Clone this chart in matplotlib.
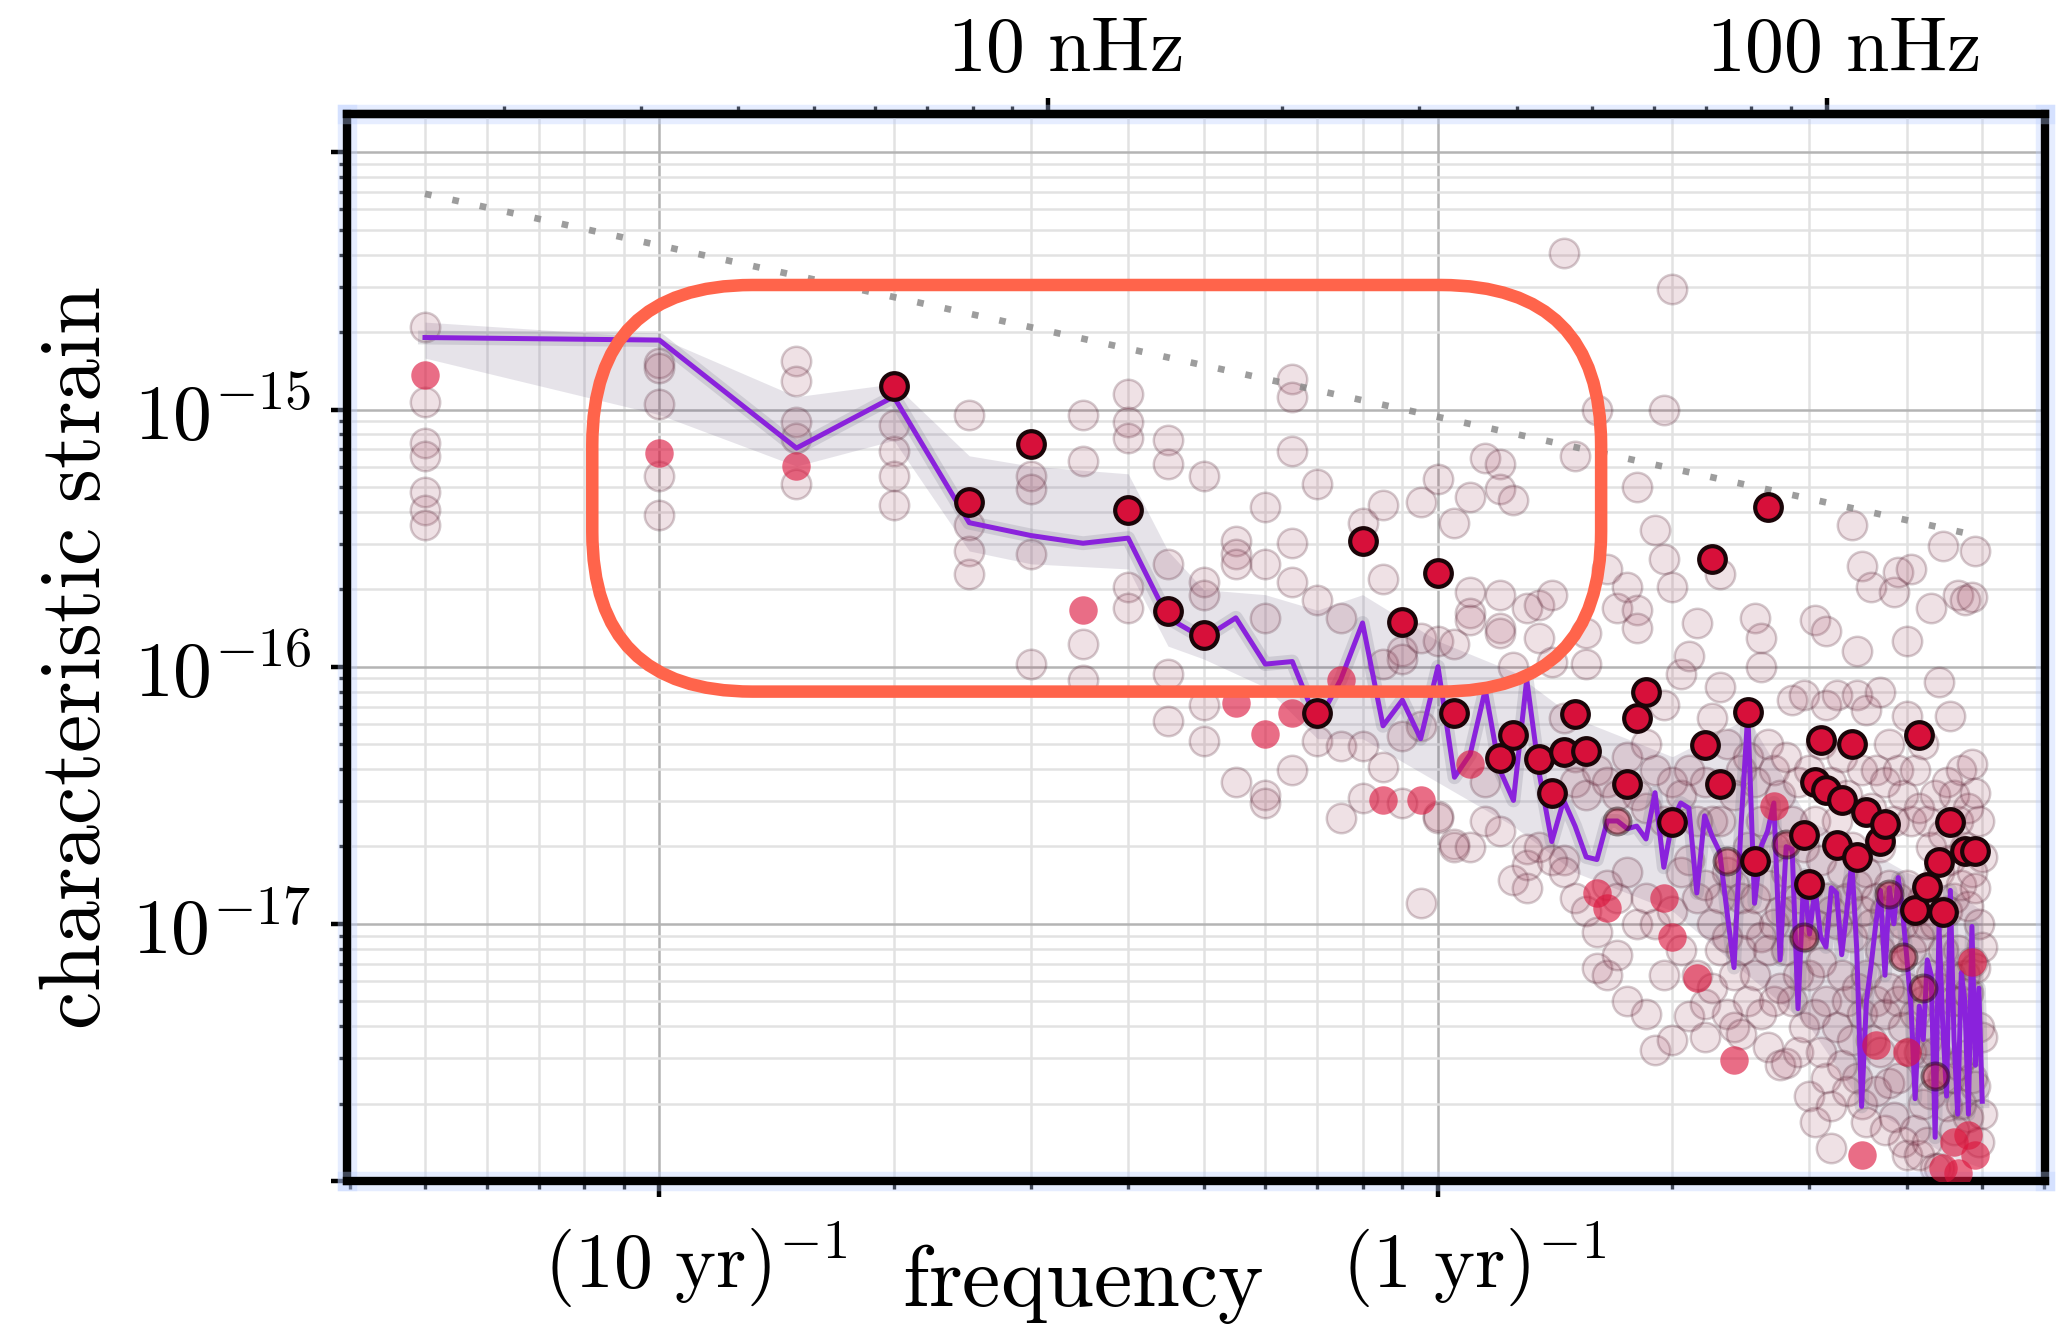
import numpy as np
import matplotlib.pyplot as plt
from matplotlib import ticker
from matplotlib.patches import FancyBboxPatch
from matplotlib.transforms import ScaledTranslation
import matplotlib.patheffects as pe

plt.rcParams['mathtext.fontset'] = 'cm'

# frequency bins: harmonics of 1/(20 yr), in 1/yr
harm = np.arange(1, 101)
freq = harm / 20.0
NHZ_PER_YR = 1e9 / (365.25 * 86400.0)

# median GWB spectrum, log10(h_c)
median_logh = [
    -14.72, -14.73, -15.15, -14.95, -15.44, -15.49, -15.52, -15.50, -15.81, -15.89,
    -15.81, -15.99, -15.98, -16.22, -16.05, -15.83, -16.23, -16.13, -16.28, -16.00,
    -16.43, -16.34, -16.09, -16.40, -16.52, -16.05, -16.42, -16.68, -16.52, -16.62,
    -16.74, -16.75, -16.60, -16.60, -16.63, -16.62, -16.67, -16.49, -16.78, -16.60,
    -16.53, -16.55, -16.88, -16.58, -16.66, -16.72, -16.95, -17.17, -16.62, -16.18,
    -16.92, -16.70, -16.64, -16.53, -17.14, -16.70, -16.71, -17.33, -16.81, -17.04,
    -16.86, -17.05, -17.09, -16.86, -16.88, -17.12, -16.95, -16.76, -17.10, -17.71,
    -17.30, -17.16, -17.00, -16.87, -17.20, -16.86, -17.00, -16.82, -16.95, -17.13,
    -17.32, -17.68, -17.32, -17.45, -17.14, -17.20, -17.83, -17.01, -17.40, -17.67,
    -16.87, -17.45, -17.74, -17.19, -17.30, -17.74, -17.01, -17.55, -17.25, -17.69,
]

# spread of the individual realisations (haze around the median)
band_k = [1, 2, 3, 4, 5, 6, 8, 9, 10, 12, 14, 16, 20, 25, 30, 40, 50, 60, 70, 80, 90, 100]
band_lo = [-14.80, -15.02, -15.22, -15.12, -15.55, -15.60, -15.62, -15.92, -15.97, -16.08, -16.28,
           -16.28, -16.45, -16.62, -16.80, -16.95, -17.20, -17.40, -17.70, -17.80, -17.90, -17.95]
band_hi = [-14.66, -14.72, -14.95, -14.90, -15.18, -15.22, -15.25, -15.55, -15.70, -15.72, -15.78,
           -15.72, -15.90, -16.02, -16.20, -16.35, -16.20, -16.60, -16.70, -16.80, -16.85, -16.95]

# faint single sources, one row per harmonic
faint_logh = [
    [-14.68, -14.97, -15.13, -15.18, -15.32, -15.39, -15.45],
    [-14.82, -14.84, -14.98, -15.26, -15.41],
    [-14.81, -14.89, -15.05, -15.11, -15.29],
    [-15.06, -15.16, -15.26, -15.37],
    [-15.02, -15.45, -15.55, -15.64],
    [-15.26, -15.31, -15.56, -15.99],
    [-15.02, -15.20, -15.91, -16.05],
    [-14.94, -15.05, -15.11, -15.69, -15.77],
    [-15.12, -15.21, -15.60, -16.03, -16.21],
    [-15.26, -15.67, -15.72, -16.15, -16.29],
    [-15.51, -15.56, -15.60, -16.45],
    [-15.38, -15.60, -15.81, -16.50, -16.53],
    [-14.88, -14.95, -15.16, -15.52, -15.67, -16.40],
    [-15.29, -15.74, -16.29],
    [-15.81, -16.31, -16.59],
    [-15.44, -16.31, -16.51],
    [-15.37, -15.66, -15.99, -16.39],
    [-15.94, -15.97, -16.27, -16.53],
    [-15.36, -15.89, -16.23, -16.92],
    [-15.27, -15.90, -16.58, -16.59],
    [-15.44, -15.91, -16.69, -16.70],
    [-15.34, -15.71, -15.79, -15.82, -16.70],
    [-15.19, -16.45, -16.60],
    [-15.21, -15.31, -15.72, -15.85, -15.87, -16.64],
    [-15.35, -16.00, -16.83],
    [-15.77, -16.71, -16.77, -16.86],
    [-15.76, -15.89, -16.70],
    [-15.72, -15.98, -16.75],
    [-14.39, -16.20, -16.75, -16.80],
    [-15.18, -16.35, -16.45, -16.90],
    [-15.87, -15.99, -16.50, -16.95],
    [-15.00, -16.40, -17.03, -17.17],
    [-15.62, -16.45, -16.85, -17.20],
    [-15.77, -16.50, -16.90, -17.12],
    [-15.69, -16.35, -16.80, -17.30],
    [-15.30, -15.78, -15.85, -16.50, -17.00],
    [-16.30, -16.55, -16.90, -17.35],
    [-15.47, -16.40, -17.00, -17.49],
    [-15.00, -15.58, -16.15, -16.60, -17.20],
    [-14.53, -15.69, -16.45, -16.95, -17.45],
    [-16.03, -16.50, -16.80, -17.10],
    [-15.96, -16.40, -16.75, -17.36],
    [-15.83, -16.60, -16.90, -17.20],
    [-16.45, -16.85, -17.31, -17.44],
    [-16.20, -16.60, -17.00, -17.25],
    [-15.64, -16.08, -16.60, -16.90, -17.10],
    [-16.30, -16.80, -17.05, -17.35],
    [-16.50, -16.85, -17.20, -17.40],
    [-16.40, -16.90, -17.10, -17.43],
    [-16.35, -16.70, -17.00, -17.30],
    [-15.81, -16.45, -16.90, -17.20],
    [-15.89, -16.00, -16.60, -17.05, -17.35],
    [-16.30, -16.85, -17.10, -17.48],
    [-16.40, -16.70, -17.00, -17.30],
    [-16.50, -16.95, -17.25, -17.55],
    [-16.35, -16.80, -17.10, -17.54],
    [-16.13, -16.60, -16.95, -17.30],
    [-16.45, -16.90, -17.20, -17.50],
    [-16.11, -16.70, -17.05, -17.40],
    [-16.40, -16.85, -17.20, -17.67],
    [-15.82, -16.60, -17.00, -17.35, -17.77],
    [-16.30, -16.75, -17.15, -17.50],
    [-15.86, -16.15, -16.90, -17.30, -17.60],
    [-16.45, -16.95, -17.71, -17.87],
    [-16.11, -16.60, -17.00, -17.40],
    [-16.35, -16.80, -17.20, -17.55],
    [-16.50, -16.90, -17.30, -17.65],
    [-15.45, -16.70, -17.05, -17.45],
    [-15.94, -16.11, -16.85, -17.25, -17.60],
    [-15.61, -16.40, -16.95, -17.35, -17.70],
    [-16.17, -16.80, -17.20, -17.77],
    [-15.69, -16.55, -17.00, -17.45],
    [-16.40, -16.90, -17.30, -17.65],
    [-16.10, -16.70, -17.10, -17.50],
    [-16.45, -16.95, -17.35, -17.80],
    [-16.30, -16.85, -17.25, -17.62],
    [-15.71, -16.60, -17.05, -17.75],
    [-15.63, -16.40, -16.90, -17.30, -17.60],
    [-16.50, -17.00, -17.40, -17.85],
    [-15.90, -16.19, -16.85, -17.25, -17.90],
    [-15.62, -16.60, -17.10, -17.50],
    [-16.40, -16.95, -17.35, -17.80],
    [-16.55, -17.05, -17.50, -17.90],
    [-16.30, -16.90, -17.30, -17.70],
    [-16.60, -17.00, -17.45, -17.85],
    [-15.77, -16.70, -17.20, -17.66],
    [-16.50, -17.00, -17.50, -17.95],
    [-16.06, -16.80, -17.25, -17.95],
    [-15.53, -16.65, -17.10, -17.60],
    [-16.45, -16.95, -17.35, -17.71],
    [-16.19, -16.75, -17.20, -17.60],
    [-16.50, -16.90, -17.30, -17.80],
    [-15.72, -16.60, -17.10, -17.55],
    [-16.40, -16.85, -17.30, -17.70],
    [-15.74, -16.70, -17.20, -17.51],
    [-16.55, -16.93, -17.27, -17.75],
    [-15.73, -16.38, -16.80, -17.15, -17.60],
    [-15.55, -16.49, -16.86, -17.17, -17.63],
    [-16.60, -17.00, -17.40, -17.85],
    [-16.74, -17.09, -17.44, -17.74],
]

# loudest sources of the highlighted realisation
loud_k = [4, 5, 6, 8, 9, 10, 14, 16, 18, 20, 21, 24, 25, 27, 28, 29, 30, 31, 35, 36,
          37, 40, 44, 45, 46, 50, 51, 53, 59, 60, 61, 62, 63, 65, 66, 68, 69, 71, 74, 75,
          82, 83, 85, 88, 89, 91, 95, 98]
loud_logh = [-14.91, -15.36, -15.135, -15.39, -15.785, -15.875, -16.18, -15.51, -15.825, -15.635,
             -16.18, -16.355, -16.265, -16.36, -16.49, -16.33, -16.185, -16.326, -16.455, -16.20,
             -16.10, -16.605, -16.305, -15.583, -16.455, -16.178, -16.754, -15.38, -16.656, -16.844,
             -16.45, -16.287, -16.48, -16.695, -16.52, -16.30, -16.74, -16.566, -16.676, -16.61,
             -16.948, -16.267, -16.858, -16.76, -16.955, -16.605, -16.715, -16.715]

# loud sources partly hidden in the cloud
dim_k = [34, 47, 56, 59, 76, 79, 84, 87]
dim_logh = [-16.60, -16.754, -16.69, -17.05, -16.883, -17.13, -17.25, -17.59]

# sources of a second realisation (no edge)
red_k = [1, 2, 3, 7, 11, 12, 13, 15, 17, 19, 22, 32, 33, 39, 40, 43, 48, 54, 70, 73,
         80, 89, 92, 93, 96, 97, 98]
red_logh = [-14.865, -15.17, -15.22, -15.78, -16.14, -16.26, -16.18, -16.05, -16.52, -16.52,
            -16.38, -16.88, -16.94, -16.90, -17.05, -17.21, -17.53, -16.54, -17.90, -17.47,
            -17.50, -17.95, -17.85, -17.97, -17.82, -17.15, -17.90]

# h_c ~ f^(-2/3) reference, end points
ref_f = [0.05, 5.0]
ref_h = [6.9e-15, 3.2e-16]

# highlighted region (data units)
box_f = (0.082, 1.62)
box_h = (8.0e-17, 3.05e-15)

fig = plt.figure(figsize=(10.28, 6.69), dpi=200)
ax = fig.add_axes([0.16877, 0.11734, 0.82588, 0.79746])
ax.set_xscale('log')
ax.set_yscale('log')
ax.set_xlim(0.0397, 6.02)
ax.set_ylim(1e-18, 1.41e-14)

ax.set_axisbelow(True)
ax.grid(True, which='major', color='#b4b4b4', lw=0.9)
ax.grid(True, which='minor', color='#e2e2e2', lw=0.9)

bk = np.array(band_k) / 20.0
ax.fill_between(bk, 10.0 ** np.array(band_lo), 10.0 ** np.array(band_hi),
                color='#4e3e6a', alpha=0.14, lw=0, zorder=1)

fk, fh = [], []
for i, row in enumerate(faint_logh):
    for v in row:
        fk.append(freq[i])
        fh.append(10.0 ** v)
ax.scatter(fk, fh, s=112, facecolor=(0.60, 0.22, 0.32, 0.15),
           edgecolor=(0.25, 0.05, 0.12, 0.22), lw=0.9, zorder=2)

ax.plot(ref_f, ref_h, color='#8c8c8c', alpha=0.85, lw=2.4, ls=(0, (1, 3.2)), zorder=2)

med = 10.0 ** np.array(median_logh)
ax.plot(freq, med, color='#7a7a8a', lw=5, alpha=0.22, zorder=3)
ax.plot(freq, med, color='#8a22dc', lw=1.8, zorder=4)

ax.scatter(np.array(red_k) / 20.0, 10.0 ** np.array(red_logh), s=105,
           color='#dc143c', alpha=0.62, lw=0, zorder=5)
ax.scatter(np.array(dim_k) / 20.0, 10.0 ** np.array(dim_logh), s=88,
           facecolor='#c8143a', edgecolor='#1a0508', lw=1.4, alpha=0.45, zorder=5)
ax.scatter(np.array(loud_k) / 20.0, 10.0 ** np.array(loud_logh), s=92,
           facecolor='#d7103a', edgecolor='#1a0508', lw=1.5, zorder=6)

# ticks
ax.xaxis.set_major_locator(ticker.FixedLocator([0.1, 1.0]))
ax.xaxis.set_major_formatter(ticker.FixedFormatter([r'$(10\ \mathrm{yr})^{-1}$', r'$(1\ \mathrm{yr})^{-1}$']))
ax.xaxis.set_minor_locator(ticker.LogLocator(base=10, subs=np.arange(2, 10)))
ax.xaxis.set_minor_formatter(ticker.NullFormatter())
ax.yaxis.set_major_locator(ticker.FixedLocator([1e-18, 1e-17, 1e-16, 1e-15, 1e-14]))
ax.yaxis.set_major_formatter(ticker.FixedFormatter(['', r'$10^{-17}$', r'$10^{-16}$', r'$10^{-15}$', '']))
ax.yaxis.set_minor_locator(ticker.LogLocator(base=10, subs=np.arange(2, 10), numticks=20))
ax.yaxis.set_minor_formatter(ticker.NullFormatter())
ax.tick_params(which='major', direction='out', length=5.8, width=1.6, labelsize=28, pad=8,
               top=False, right=False)
ax.tick_params(axis='y', which='major', pad=7)
ax.tick_params(which='minor', direction='out', length=3.0, width=1.2, top=False, right=False)

sec = ax.secondary_xaxis('top', functions=(lambda x: x * NHZ_PER_YR, lambda x: x / NHZ_PER_YR))
sec.set_xticks([10, 100])
sec.set_xticklabels([r'$10\ \mathrm{nHz}$', r'$100\ \mathrm{nHz}$'])
sec.tick_params(which='major', direction='out', length=5.8, width=1.6, labelsize=28, pad=4)
sec.tick_params(which='minor', direction='out', length=3.0, width=1.2)

# labels sit a little right of their ticks in the original
for lab in ax.get_xticklabels():
    lab.set_transform(lab.get_transform() + ScaledTranslation(13 / 72, 0, fig.dpi_scale_trans))
for lab in sec.get_xticklabels():
    lab.set_transform(lab.get_transform() + ScaledTranslation(6 / 72, 0, fig.dpi_scale_trans))

glow = [pe.Stroke(linewidth=7, foreground='#b8ccff', alpha=0.35), pe.Normal()]
for sp in ax.spines.values():
    sp.set_linewidth(3.0)
    sp.set_path_effects(glow)
for sp in sec.spines.values():
    sp.set_linewidth(3.0)

ax.set_xlabel(r'$\mathrm{frequency}$', fontsize=31)
ax.xaxis.set_label_coords(0.433, -0.057)
ax.set_ylabel(r'$\mathrm{characteristic\ strain}$', fontsize=31)
ax.yaxis.set_label_coords(-0.135, 0.49)

# rounded highlight box
inv = ax.transAxes.inverted()
x0, y0 = inv.transform(ax.transData.transform((box_f[0], box_h[0])))
x1, y1 = inv.transform(ax.transData.transform((box_f[1], box_h[1])))
bb = ax.get_position()
W = bb.width * fig.get_figwidth()
H = bb.height * fig.get_figheight()
rad_in = 160.0 / 2056 * fig.get_figwidth()
box = FancyBboxPatch((x0, y0), x1 - x0, y1 - y0,
                     boxstyle='round,pad=0,rounding_size=%f' % (rad_in / W),
                     mutation_aspect=W / H, transform=ax.transAxes,
                     facecolor='none', edgecolor='#ff644b', lw=4.5, zorder=10, clip_on=False)
ax.add_patch(box)

fig.savefig('out.png', dpi=200)
